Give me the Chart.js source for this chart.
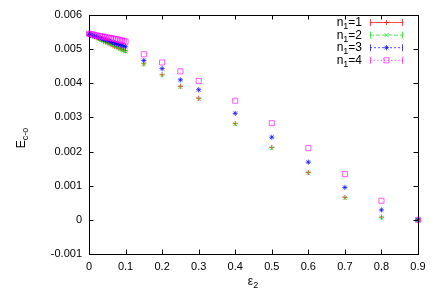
<!DOCTYPE html>
<html>
<head>
<meta charset="utf-8">
<script src="https://cdn.jsdelivr.net/npm/chart.js@4/dist/chart.umd.min.js"></script>
<style>
  html, body { margin: 0; padding: 0; background: #fff; }
</style>
</head>
<body>
<canvas id="c" width="436" height="305"></canvas>
<script>
// epsilon_2 values
const eps2 = [
  0, 0.005, 0.01, 0.015, 0.02, 0.025, 0.03, 0.035, 0.04, 0.045, 0.05,
  0.055, 0.06, 0.065, 0.07, 0.075, 0.08, 0.085, 0.09, 0.095, 0.1,
  0.15, 0.2, 0.25, 0.3, 0.4, 0.5, 0.6, 0.7, 0.8, 0.9
];

// E_c-o for each n1
const ecoN1 = [
  0.00544, 0.00542, 0.00539, 0.00537, 0.00534, 0.00532, 0.00529, 0.00527, 0.00524, 0.00522, 0.00519,
  0.00517, 0.00514, 0.00512, 0.00509, 0.00507, 0.00504, 0.00502, 0.00499, 0.00497, 0.00495,
  0.00457, 0.00425, 0.00391, 0.00356, 0.00282, 0.00212, 0.00139, 0.00066, 0.00008, 0.0
];
const ecoN2 = [
  0.00544, 0.00541, 0.00539, 0.00536, 0.00534, 0.00531, 0.00529, 0.00526, 0.00524, 0.00521, 0.00518,
  0.00516, 0.00513, 0.00511, 0.00508, 0.00506, 0.00503, 0.00501, 0.00498, 0.00496, 0.00493,
  0.00455, 0.00423, 0.00389, 0.00354, 0.00280, 0.00210, 0.00137, 0.00064, 0.00006, 0.0
];
const ecoN3 = [
  0.00544, 0.00542, 0.00540, 0.00538, 0.00537, 0.00535, 0.00533, 0.00531, 0.00529, 0.00527, 0.00526,
  0.00524, 0.00522, 0.00520, 0.00518, 0.00516, 0.00514, 0.00513, 0.00511, 0.00509, 0.00507,
  0.00467, 0.00443, 0.00410, 0.00381, 0.00312, 0.00242, 0.00169, 0.00095, 0.00029, 0.0
];
const ecoN4 = [
  0.00545, 0.00544, 0.00543, 0.00541, 0.00540, 0.00539, 0.00538, 0.00537, 0.00536, 0.00535, 0.00534,
  0.00533, 0.00532, 0.00531, 0.00530, 0.00529, 0.00528, 0.00526, 0.00525, 0.00524, 0.00522,
  0.00485, 0.00461, 0.00435, 0.00407, 0.00349, 0.00283, 0.00210, 0.00134, 0.00056, 0.0
];

const seriesLabels = ["1", "2", "3", "4"];
const xTicks = [0, 0.1, 0.2, 0.3, 0.4, 0.5, 0.6, 0.7, 0.8, 0.9];
const yTicks = [-0.001, 0, 0.001, 0.002, 0.003, 0.004, 0.005, 0.006];

const FONT = "'Liberation Sans', Arial, sans-serif";

const styles = [
  { color: "rgba(255,0,0,0.7)", point: "cross", radius: 2.6, dash: [] },
  { color: "rgba(0,230,0,0.7)", point: "crossRot", radius: 2.6, dash: [4, 2] },
  { color: "rgba(0,0,255,0.7)", point: "star", radius: 2.6, dash: [2, 2] },
  { color: "rgba(255,0,255,0.65)", point: "rect", radius: 3.6, dash: [1.5, 2] }
];

function points(ys) {
  return eps2.map((x, i) => ({ x: x, y: ys[i] }));
}

const allSeries = [ecoN1, ecoN2, ecoN3, ecoN4];

const datasets = allSeries.map((ys, i) => ({
  label: "n1=" + seriesLabels[i],
  data: points(ys),
  showLine: false,
  borderColor: styles[i].color,
  backgroundColor: "rgba(0,0,0,0)",
  borderWidth: 1,
  pointStyle: styles[i].point,
  pointRadius: styles[i].radius,
  pointBorderWidth: 1,
  clip: false,
  order: 3 - i
}));

function subText(ctx, x, y, base, sub, tail, size) {
  // base + subscript + tail, left edge x, baseline y
  ctx.font = size + "px " + FONT;
  ctx.fillText(base, x, y);
  x += ctx.measureText(base).width;
  ctx.font = Math.round(size * 0.75) + "px " + FONT;
  ctx.fillText(sub, x, y + 3);
  x += ctx.measureText(sub).width;
  if (tail) {
    ctx.font = size + "px " + FONT;
    ctx.fillText(tail, x, y);
  }
}

function subWidth(ctx, base, sub, tail, size) {
  ctx.font = size + "px " + FONT;
  let w = ctx.measureText(base).width + (tail ? ctx.measureText(tail).width : 0);
  ctx.font = Math.round(size * 0.75) + "px " + FONT;
  return w + ctx.measureText(sub).width;
}

const framePlugin = {
  id: "frame",
  afterDatasetsDraw(chart) {
    const ctx = chart.ctx;
    const a = chart.chartArea;
    const xs = chart.scales.x, ys = chart.scales.y;
    ctx.save();
    ctx.strokeStyle = "#000";
    ctx.lineWidth = 1;
    ctx.setLineDash([]);
    ctx.beginPath();
    const tl = 4.5;
    xTicks.forEach(v => {
      const px = Math.round(xs.getPixelForValue(v)) + 0.5;
      ctx.moveTo(px, a.bottom); ctx.lineTo(px, a.bottom - tl);
      ctx.moveTo(px, a.top); ctx.lineTo(px, a.top + tl);
    });
    yTicks.forEach(v => {
      const py = Math.round(ys.getPixelForValue(v)) + 0.5;
      ctx.moveTo(a.left, py); ctx.lineTo(a.left + tl, py);
      ctx.moveTo(a.right, py); ctx.lineTo(a.right - tl, py);
    });
    ctx.stroke();
    ctx.strokeRect(Math.round(a.left) + 0.5, Math.round(a.top) + 0.5,
      Math.round(a.right - a.left), Math.round(a.bottom - a.top));

    // legend
    ctx.textBaseline = "alphabetic";
    ctx.textAlign = "left";
    const textRight = 362;
    const x0 = 370, x1 = 403;
    datasets.forEach((ds, i) => {
      const yc = 22 + i * 12.6;
      ctx.fillStyle = "#000";
      const w = subWidth(ctx, "n", "1", "=" + seriesLabels[i], 12);
      subText(ctx, textRight - w, yc + 4, "n", "1", "=" + seriesLabels[i], 12);
      const st = styles[i];
      ctx.strokeStyle = st.color;
      ctx.fillStyle = "rgba(0,0,0,0)";
      ctx.lineWidth = 1;
      ctx.setLineDash(st.dash);
      ctx.beginPath();
      ctx.moveTo(x0, yc + 0.5); ctx.lineTo(x1, yc + 0.5);
      ctx.stroke();
      ctx.setLineDash([]);
      ctx.beginPath();
      ctx.moveTo(x0 + 0.5, yc - 3); ctx.lineTo(x0 + 0.5, yc + 4);
      ctx.moveTo(x1 - 0.5, yc - 3); ctx.lineTo(x1 - 0.5, yc + 4);
      ctx.stroke();
      Chart.helpers.drawPoint(ctx, {
        pointStyle: st.point, radius: st.radius, borderWidth: 1, rotation: 0
      }, (x0 + x1) / 2, yc + 0.5);
    });

    // axis titles
    ctx.fillStyle = "#000";
    const wx = subWidth(ctx, "\u03b5", "2", "", 12);
    subText(ctx, 253 - wx / 2, 285, "\u03b5", "2", "", 12);

    ctx.translate(25, 138);
    ctx.rotate(-Math.PI / 2);
    const wy = subWidth(ctx, "E", "c-o", "", 12);
    subText(ctx, -wy / 2, 0, "E", "c-o", "", 12);
    ctx.restore();
  }
};

new Chart(document.getElementById("c"), {
  type: "scatter",
  data: { datasets: datasets },
  options: {
    responsive: false,
    animation: false,
    layout: { padding: { top: 15, right: 18, left: 0, bottom: 0 } },
    plugins: {
      legend: { display: false },
      tooltip: { enabled: false }
    },
    scales: {
      x: {
        type: "linear",
        min: 0,
        max: 0.9,
        afterBuildTicks: s => { s.ticks = xTicks.map(v => ({ value: v })); },
        afterFit: s => { s.height = 51; },
        grid: { display: false, drawTicks: false },
        border: { display: false },
        ticks: {
          padding: 6,
          color: "#000",
          font: { family: FONT, size: 11 },
          maxRotation: 0,
          callback: v => String(Number(v.toFixed(1)))
        }
      },
      y: {
        type: "linear",
        min: -0.001,
        max: 0.006,
        afterBuildTicks: s => { s.ticks = yTicks.map(v => ({ value: v })); },
        afterFit: s => { s.width = 89; },
        grid: { display: false, drawTicks: false },
        border: { display: false },
        ticks: {
          padding: 7,
          color: "#000",
          font: { family: FONT, size: 11 },
          callback: v => String(Number(v.toFixed(3)))
        }
      }
    }
  },
  plugins: [framePlugin]
});
</script>
</body>
</html>
